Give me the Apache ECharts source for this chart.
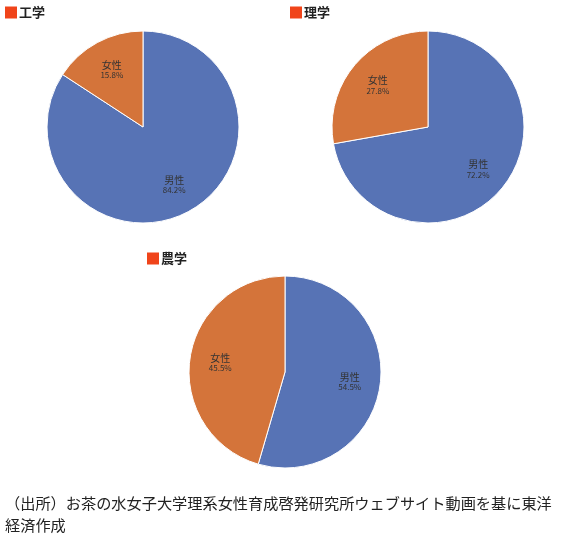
<!DOCTYPE html>
<html>
<head>
<meta charset="utf-8">
<script src="https://cdn.jsdelivr.net/npm/echarts@6/dist/echarts.min.js"></script>
<style>
html,body{margin:0;padding:0;background:#fff;}
#c{width:570px;height:543px;}
</style>
</head>
<body>
<div id="c"></div>
<script>
const groups = ['工学', '理学', '農学'];
const sliceNames = ['男性', '女性'];
const male = [84.2, 72.2, 54.5];
const female = [15.8, 27.8, 45.5];
const note = '（出所）お茶の水女子大学理系女性育成啓発研究所ウェブサイト動画を基に東洋\n経済作成';

const FONT = '"Noto Sans CJK JP", "Noto Sans", sans-serif';
const colors = ['#5773b5', '#d4743a'];
const centers = [[143, 127], [428, 127], [285, 372]];
const titlePos = [[5, 6], [290, 6], [147, 252]];
const R = 96;

const chart = echarts.init(document.getElementById('c'), null, {renderer: 'canvas'});

const titles = groups.map((g, i) => ({
  text: '{s|}{t|' + g + '}',
  left: titlePos[i][0],
  top: titlePos[i][1],
  padding: 0,
  textStyle: {
    rich: {
      s: {width: 12, height: 12, backgroundColor: '#f0441a'},
      t: {fontSize: 13, fontWeight: 'bold', color: '#222', fontFamily: FONT, padding: [0, 0, 0, 2]}
    }
  }
}));
titles.push({
  text: note,
  left: 5,
  top: 492,
  padding: 0,
  textStyle: {fontSize: 15.2, fontWeight: 'normal', color: '#222', fontFamily: FONT, lineHeight: 22}
});

const series = [];
groups.forEach((g, i) => {
  const data = sliceNames.map((n, k) => ({name: n, value: k === 0 ? male[i] : female[i]}));
  series.push({
    type: 'pie',
    center: centers[i],
    radius: [0, R],
    startAngle: 90,
    clockwise: true,
    data: data,
    color: colors,
    label: {show: false},
    labelLine: {show: false},
    itemStyle: {borderColor: '#fff', borderWidth: 1},
    emphasis: {disabled: true},
    silent: true,
    animation: false
  });
  series.push({
    type: 'pie',
    center: centers[i],
    radius: [0, R * 1.3],
    startAngle: 90,
    clockwise: true,
    data: data,
    itemStyle: {color: 'rgba(0,0,0,0)', borderWidth: 0},
    label: {
      show: true,
      position: 'inside',
      formatter: '{n|{b}}\n{p|{c}%}',
      rich: {
        n: {fontSize: 10, color: '#333', fontFamily: FONT, lineHeight: 11, align: 'center'},
        p: {fontSize: 8, color: '#333', fontFamily: FONT, lineHeight: 9, align: 'center'}
      }
    },
    labelLine: {show: false},
    emphasis: {disabled: true},
    silent: true,
    animation: false,
    z: 3
  });
});

chart.setOption({
  backgroundColor: '#fff',
  animation: false,
  title: titles,
  series: series
});
</script>
</body>
</html>
